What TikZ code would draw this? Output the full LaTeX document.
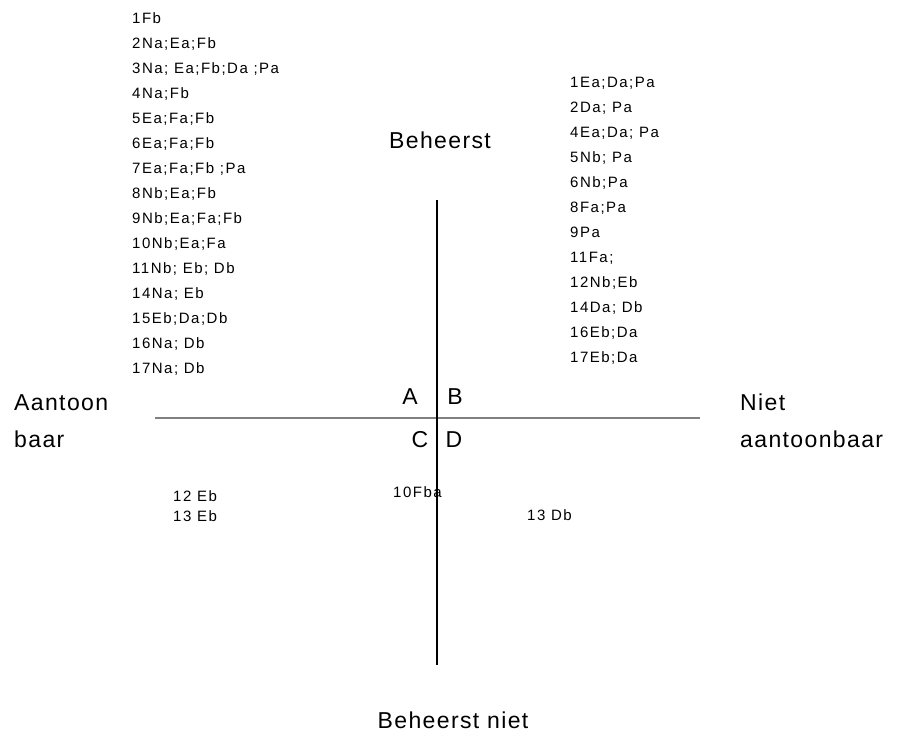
\documentclass[tikz,border=0pt]{standalone}
\usepackage{fontspec}
\setmainfont{Liberation Sans}
\usetikzlibrary{positioning}

\begin{document}
\begin{tikzpicture}[x=1pt,y=-1pt,
  codes/.style={font=\fontsize{15}{25}\selectfont\addfontfeature{LetterSpace=10},align=left,inner sep=0pt,anchor=north west},
  axislabel/.style={font=\fontsize{23}{37}\selectfont\addfontfeature{LetterSpace=6},align=left,inner sep=0pt},
  quadrant/.style={font=\fontsize{23}{23}\selectfont,inner sep=0pt}]
\useasboundingbox[fill=white] (0,0) rectangle (897,738);
% axes
\coordinate (hl) at (155,418);
\coordinate (hr) at (700,418);
\coordinate (vt) at (437,200);
\coordinate (vb) at (437,665);
\draw[gray,line width=2pt] (hl) -- (hr);
\draw[black,line width=1.2pt] (vt) -- (vb);
% axis labels
\node[axislabel] (top) at (440,140) {Beheerst};
\node[axislabel] (bottom) at (453,720) {Beheerst niet};
\node[axislabel,anchor=north west] (left) at (14,394) {Aantoon\\baar};
\node[axislabel,anchor=north west] (right) at (740,394) {Niet\\aantoonbaar};
% quadrants
\node[quadrant] (A) at (410,397) {A};
\node[quadrant] (B) at (455,397) {B};
\node[quadrant] (C) at (420,440) {C};
\node[quadrant] (D) at (454,440) {D};
% codes per quadrant
\node[codes] (quadA) at (132,12) {1Fb\\2Na;Ea;Fb\\3Na; Ea;Fb;Da ;Pa\\4Na;Fb\\5Ea;Fa;Fb\\6Ea;Fa;Fb\\7Ea;Fa;Fb ;Pa\\8Nb;Ea;Fb\\9Nb;Ea;Fa;Fb\\10Nb;Ea;Fa\\11Nb; Eb; Db\\14Na; Eb\\15Eb;Da;Db\\16Na; Db\\17Na; Db};
\node[codes] (quadB) at (570,77) {1Ea;Da;Pa\\2Da; Pa\\4Ea;Da; Pa\\5Nb; Pa\\6Nb;Pa\\8Fa;Pa\\9Pa\\11Fa;\\12Nb;Eb\\14Da; Db\\16Eb;Da\\17Eb;Da};
\node[codes,font=\fontsize{15}{20}\selectfont\addfontfeature{LetterSpace=10}] (quadC) at (173,490) {12 Eb\\13 Eb};
\node[codes] (onaxis) at (393,486) {10Fba};
\node[codes] (quadD) at (527,509) {13 Db};
\end{tikzpicture}
\end{document}
